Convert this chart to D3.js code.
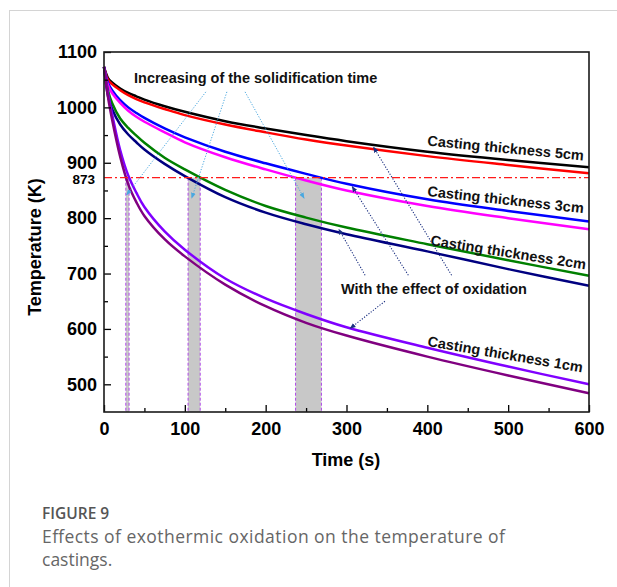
<!DOCTYPE html>
<html>
<head>
<meta charset="utf-8">
<script src="https://cdn.jsdelivr.net/npm/d3@7"></script>
<style>
	body { margin: 0; background: #fff; }
	svg text { font-family: "Liberation Sans", Arial, sans-serif; }
	.axis text { font-size: 18px; font-weight: bold; fill: #000; }
	.axis line { stroke: #000; stroke-width: 1.3; }
	.note { font-size: 14.5px; font-weight: bold; fill: #111; }
	svg text.caption { font-family: "Open Sans", sans-serif; }
</style>
</head>
<body>
<svg id="chart" width="617" height="587"></svg>
<script>

// time points (s)
var times = [0, 5, 10, 20, 30, 40, 50, 75, 100, 150, 200, 250, 300, 400, 500, 600];

// temperature (K) per casting, with and without oxidation
var t5cmOx = [1073, 1053, 1045, 1034, 1026, 1020, 1014, 1002, 992, 975, 962, 950, 939, 920, 905, 892];
var t5cm   = [1073, 1050, 1042, 1031, 1022, 1015, 1009, 997, 986, 969, 955, 942, 931, 912, 896, 881];
var t3cmOx = [1073, 1044, 1031, 1013, 1000, 990, 981, 962, 946, 920, 899, 880, 862, 834, 813, 794];
var t3cm   = [1073, 1040, 1026, 1008, 994, 983, 974, 955, 937, 910, 888, 868, 850, 822, 800, 780];
var t2cmOx = [1073, 1030, 1008, 980, 963, 949, 936, 909, 888, 851, 822, 801, 783, 753, 724, 696];
var t2cm   = [1073, 1020, 997, 969, 951, 937, 924, 898, 876, 838, 810, 789, 771, 740, 708, 678];
var t1cmOx = [1073, 1025, 988, 923, 877, 846, 820, 776, 743, 691, 655, 627, 603, 566, 532, 500];
var t1cm   = [1073, 1018, 978, 911, 861, 829, 804, 762, 731, 680, 641, 611, 588, 550, 516, 484];

// solidification temperature and times where the curves cross it (1cm, 2cm, 3cm)
var solidTemp = 873;
var solidNoOx = [27, 104, 237];
var solidOx = [31, 119, 269];

// tick labels
var xTicks = [0, 100, 200, 300, 400, 500, 600];
var yTicks = [500, 600, 700, 800, 900, 1000, 1100];

var series = [
	{values: t5cmOx, color: "#000000"},
	{values: t5cm, color: "#ff0000"},
	{values: t3cmOx, color: "#0000ff"},
	{values: t3cm, color: "#ff00ff"},
	{values: t2cmOx, color: "#008000"},
	{values: t2cm, color: "#000080"},
	{values: t1cmOx, color: "#8000ff"},
	{values: t1cm, color: "#800080"}
];

var svg = d3.select("#chart");
var margin = {left: 104, top: 52, right: 28, bottom: 175};
var width = 617, height = 587;

var x = d3.scaleLinear().domain([0, 600]).range([margin.left, width - margin.right]);
var y = d3.scaleLinear().domain([450, 1100]).range([height - margin.bottom, margin.top]);

// figure border
svg.append("line").attr("x1", 9.5).attr("x2", 9.5).attr("y1", 10).attr("y2", 587)
	.style("stroke", "#d4d4d4");
svg.append("line").attr("x1", 9).attr("x2", 617).attr("y1", 10.5).attr("y2", 10.5)
	.style("stroke", "#d4d4d4");

// markers for the arrows
var defs = svg.append("defs");
defs.append("marker").attr("id", "headBlue").attr("viewBox", "0 0 10 10")
	.attr("refX", 9).attr("refY", 5).attr("markerWidth", 6).attr("markerHeight", 6)
	.attr("markerUnits", "userSpaceOnUse").attr("orient", "auto")
	.append("path").attr("d", "M0,1 L10,5 L0,9 Z").style("fill", "#4aa8e0");
defs.append("marker").attr("id", "headNavy").attr("viewBox", "0 0 10 10")
	.attr("refX", 9).attr("refY", 5).attr("markerWidth", 6).attr("markerHeight", 6)
	.attr("markerUnits", "userSpaceOnUse").attr("orient", "auto")
	.append("path").attr("d", "M0,1 L10,5 L0,9 Z").style("fill", "#1a2f80");

// shaded solidification bands
for (var i = 0; i < solidNoOx.length; i++) {
	svg.append("rect")
		.attr("x", x(solidNoOx[i]))
		.attr("y", y(solidTemp))
		.attr("width", x(solidOx[i]) - x(solidNoOx[i]))
		.attr("height", y(450) - y(solidTemp))
		.style("fill", "#c8c8c8");
	[solidNoOx[i], solidOx[i]].forEach(function(t) {
		svg.append("line")
			.attr("x1", x(t)).attr("x2", x(t))
			.attr("y1", y(solidTemp)).attr("y2", y(450))
			.style("stroke", "#b048e8")
			.style("stroke-width", 1)
			.style("stroke-dasharray", "3,2");
	});
}

// curves
var line = d3.line()
	.x(function(d, i) { return x(times[i]); })
	.y(function(d) { return y(d); })
	.curve(d3.curveCatmullRom.alpha(0.5));

svg.selectAll(".curve")
	.data(series)
	.enter()
	.append("path")
	.attr("class", "curve")
	.attr("d", function(d) { return line(d.values); })
	.style("fill", "none")
	.style("stroke", function(d) { return d.color; })
	.style("stroke-width", 2.5);

// 873 K line
svg.append("line")
	.attr("x1", x(0)).attr("x2", x(600))
	.attr("y1", y(solidTemp)).attr("y2", y(solidTemp))
	.style("stroke", "#ff1a1a")
	.style("stroke-width", 1.3)
	.style("stroke-dasharray", "8,3,2,3");

// axes
var xAxis = d3.axisBottom(x).tickValues(xTicks).tickSize(-7).tickPadding(10).tickFormat(d3.format("d"));
var xMinor = d3.axisBottom(x).tickValues([50, 150, 250, 350, 450, 550]).tickSize(-4).tickFormat("");
var yAxis = d3.axisLeft(y).tickValues(yTicks).tickSize(-7).tickPadding(7).tickFormat(d3.format("d"));
var yMinor = d3.axisLeft(y).tickValues([550, 650, 750, 850, 950, 1050]).tickSize(-4).tickFormat("");

[xAxis, xMinor].forEach(function(a) {
	svg.append("g").attr("class", "axis")
		.attr("transform", "translate(0," + y(450) + ")")
		.call(a).call(function(g) { g.select(".domain").remove(); });
});
[yAxis, yMinor].forEach(function(a) {
	svg.append("g").attr("class", "axis")
		.attr("transform", "translate(" + x(0) + ",0)")
		.call(a).call(function(g) { g.select(".domain").remove(); });
});

// extra 873 label
svg.append("text")
	.attr("x", x(0) - 9)
	.attr("y", y(solidTemp) + 1.5)
	.attr("dy", "0.35em")
	.style("text-anchor", "end")
	.style("font-size", "13.5px")
	.style("font-weight", "bold")
	.text(solidTemp);

// frame
svg.append("rect")
	.attr("x", x(0)).attr("y", y(1100))
	.attr("width", x(600) - x(0)).attr("height", y(450) - y(1100))
	.style("fill", "none")
	.style("stroke", "#1a1a1a")
	.style("stroke-width", 1.6);

// axis titles
svg.append("text")
	.attr("x", 346).attr("y", 466)
	.style("text-anchor", "middle")
	.style("font-size", "18px").style("font-weight", "bold")
	.text("Time (s)");
svg.append("text")
	.attr("transform", "translate(41,247) rotate(-90)")
	.style("text-anchor", "middle")
	.style("font-size", "18px").style("font-weight", "bold")
	.text("Temperature (K)");

// curve labels
var labels = [
	{text: "Casting thickness 5cm", x: 427, y: 145.5, angle: 5.5},
	{text: "Casting thickness 3cm", x: 427, y: 196, angle: 6.3},
	{text: "Casting thickness 2cm", x: 430, y: 245, angle: 9},
	{text: "Casting thickness 1cm", x: 427, y: 346, angle: 9.7}
];
svg.selectAll(".lab")
	.data(labels)
	.enter()
	.append("text")
	.attr("class", "note")
	.attr("transform", function(d) { return "translate(" + d.x + "," + d.y + ") rotate(" + d.angle + ")"; })
	.text(function(d) { return d.text; });

svg.append("text").attr("class", "note").attr("x", 134).attr("y", 83)
	.text("Increasing of the solidification time");
svg.append("text").attr("class", "note").attr("x", 341).attr("y", 294)
	.text("With the effect of oxidation");

// arrows, given in data units [t0, T0, t1, T1]
var blueArrows = [[126, 1028, 28, 842], [152, 1028, 108.5, 836], [174.5, 1028, 247.5, 836]];
var navyArrows = [[430, 697, 333.5, 928], [376.5, 697, 307, 857], [323, 697, 290.5, 780], [347.5, 650, 304.5, 601]];

blueArrows.forEach(function(a) {
	svg.append("line")
		.attr("x1", x(a[0])).attr("y1", y(a[1])).attr("x2", x(a[2])).attr("y2", y(a[3]))
		.style("stroke", "#4aa8e0").style("stroke-width", 1)
		.style("stroke-dasharray", "1.2,1.6")
		.attr("marker-end", "url(#headBlue)");
});
navyArrows.forEach(function(a) {
	svg.append("line")
		.attr("x1", x(a[0])).attr("y1", y(a[1])).attr("x2", x(a[2])).attr("y2", y(a[3]))
		.style("stroke", "#1a2f80").style("stroke-width", 1.1)
		.style("stroke-dasharray", "1.2,1.6")
		.attr("marker-end", "url(#headNavy)");
});

// caption
svg.append("text").attr("class", "caption")
	.attr("x", 42).attr("y", 519)
	.style("font-size", "15.5px").style("font-weight", 600).style("fill", "#555")
	.text("FIGURE 9");
svg.append("text").attr("class", "caption")
	.attr("x", 42).attr("y", 543)
	.style("font-size", "17.5px").style("fill", "#666")
	.attr("textLength", 463)
	.text("Effects of exothermic oxidation on the temperature of");
svg.append("text").attr("class", "caption")
	.attr("x", 42).attr("y", 566)
	.style("font-size", "17.5px").style("fill", "#666")
	.text("castings.");

</script>
</body>
</html>
